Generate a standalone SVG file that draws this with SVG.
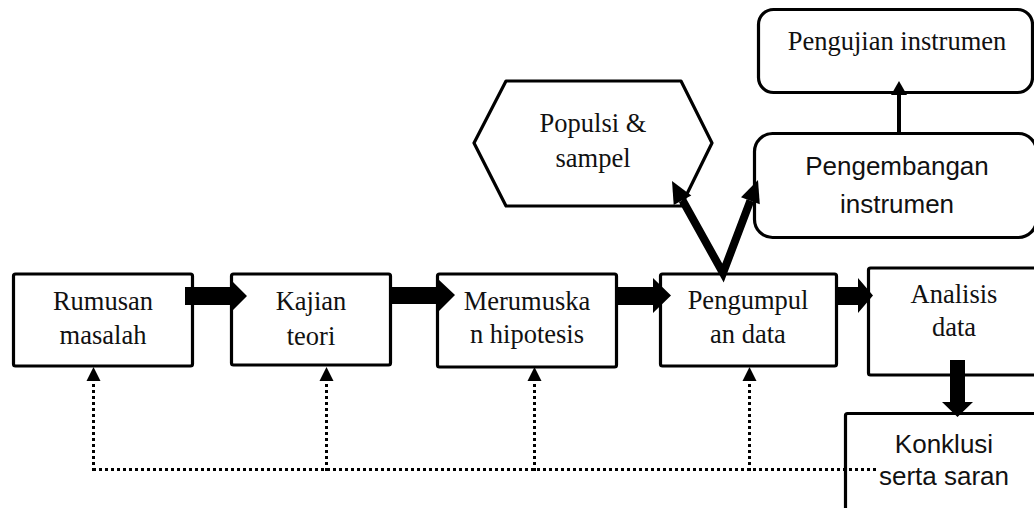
<svg xmlns="http://www.w3.org/2000/svg" width="1034" height="508" viewBox="0 0 1034 508">
<style>
.box{fill:#fff;stroke:#000;stroke-width:3.2;stroke-linejoin:round}
.serif{font-family:"Liberation Serif","Times New Roman",serif;font-size:26.5px;fill:#111;text-anchor:middle}
.sans{font-family:"Liberation Sans",Arial,sans-serif;font-size:26px;fill:#111;text-anchor:middle}
.dot{fill:none;stroke:#000;stroke-width:3;stroke-dasharray:3 3}
.blk{fill:#000}
</style>
<rect width="1034" height="508" fill="#fff"/>
<g id="node-rumusan">
  <rect class="box" x="13.5" y="274" width="179" height="92" rx="2"/>
  <text class="serif" x="103" y="310">Rumusan</text>
  <text class="serif" x="103" y="344">masalah</text>
</g>
<g id="node-kajian">
  <rect class="box" x="231.5" y="274" width="159" height="91" rx="2"/>
  <text class="serif" x="311" y="310">Kajian</text>
  <text class="serif" x="311" y="345">teori</text>
</g>
<g id="node-merumuskan">
  <rect class="box" x="437.5" y="274" width="179" height="93" rx="2"/>
  <text class="serif" x="527" y="310">Merumuska</text>
  <text class="serif" x="527" y="343">n hipotesis</text>
</g>
<g id="node-pengumpulan">
  <rect class="box" x="660.5" y="274" width="176" height="92" rx="2"/>
  <text class="serif" x="748" y="309">Pengumpul</text>
  <text class="serif" x="748" y="343">an data</text>
</g>
<g id="node-analisis">
  <rect class="box" x="868.5" y="268" width="180" height="107" rx="2"/>
  <text class="serif" x="954" y="303">Analisis</text>
  <text class="serif" x="954" y="336">data</text>
</g>
<g id="node-konklusi">
  <rect class="box" x="845.5" y="413.5" width="200" height="110" rx="2"/>
  <text class="sans" x="944" y="453">Konklusi</text>
  <text class="sans" x="944" y="485">serta saran</text>
</g>
<g id="node-populasi">
  <polygon class="box" points="474,143 506,81 681,81 712,143 681,206 506,206"/>
  <text class="serif" x="593" y="132">Populsi &amp;</text>
  <text class="serif" x="593" y="167">sampel</text>
</g>
<g id="node-pengembangan">
  <rect class="box" x="754.5" y="133.5" width="282" height="104" rx="18"/>
  <text class="sans" x="897" y="175">Pengembangan</text>
  <text class="sans" x="897" y="213">instrumen</text>
</g>
<g id="node-pengujian">
  <rect class="box" x="758.5" y="9.5" width="274" height="83" rx="15"/>
  <text class="serif" x="897" y="50">Pengujian instrumen</text>
</g>
<g id="connectors">
  <!-- feedback dotted lines -->
  <path class="dot" d="M876,469.5 H93"/>
  <path class="dot" d="M93.5,471 V380"/>
  <path class="dot" d="M326.5,471 V380"/>
  <path class="dot" d="M534.5,471 V380"/>
  <path class="dot" d="M749.5,471 V380"/>
  <polygon class="blk" points="93.5,367 86.5,381 100.5,381"/>
  <polygon class="blk" points="326.5,367 319.5,381 333.5,381"/>
  <polygon class="blk" points="534.5,367 527.5,381 541.5,381"/>
  <polygon class="blk" points="749.5,367 742.5,381 756.5,381"/>
  <!-- thick block arrows -->
  <polygon class="blk" points="185,287 233,287 233,282 247,296 233,310 233,305 185,305"/>
  <polygon class="blk" points="392,287 438,287 438,279 455,295 438,312 438,304 392,304"/>
  <polygon class="blk" points="618,287 653,287 653,278 671,295.5 653,313 653,305 618,305"/>
  <polygon class="blk" points="836,287 858,287 858,278 873,295.5 858,313 858,305 836,305"/>
  <polygon class="blk" points="950,360 965,360 965,402 973,402 957.5,417 942,402 950,402"/>
  <!-- V arrows from Pengumpulan -->
  <polyline points="682.5,200.3 723,273 750.4,200.7" fill="none" stroke="#000" stroke-width="8" stroke-linejoin="miter"/>
  <polygon class="blk" points="672,181 691.3,195.5 673.7,205.1"/>
  <polygon class="blk" points="758,180 759.8,204.2 741,197.2"/>
  <!-- thin arrow up to Pengujian -->
  <line x1="899" y1="133" x2="899" y2="93" stroke="#000" stroke-width="4"/>
  <polygon class="blk" points="899,81 891,95 907,95"/>
</g>
</svg>
